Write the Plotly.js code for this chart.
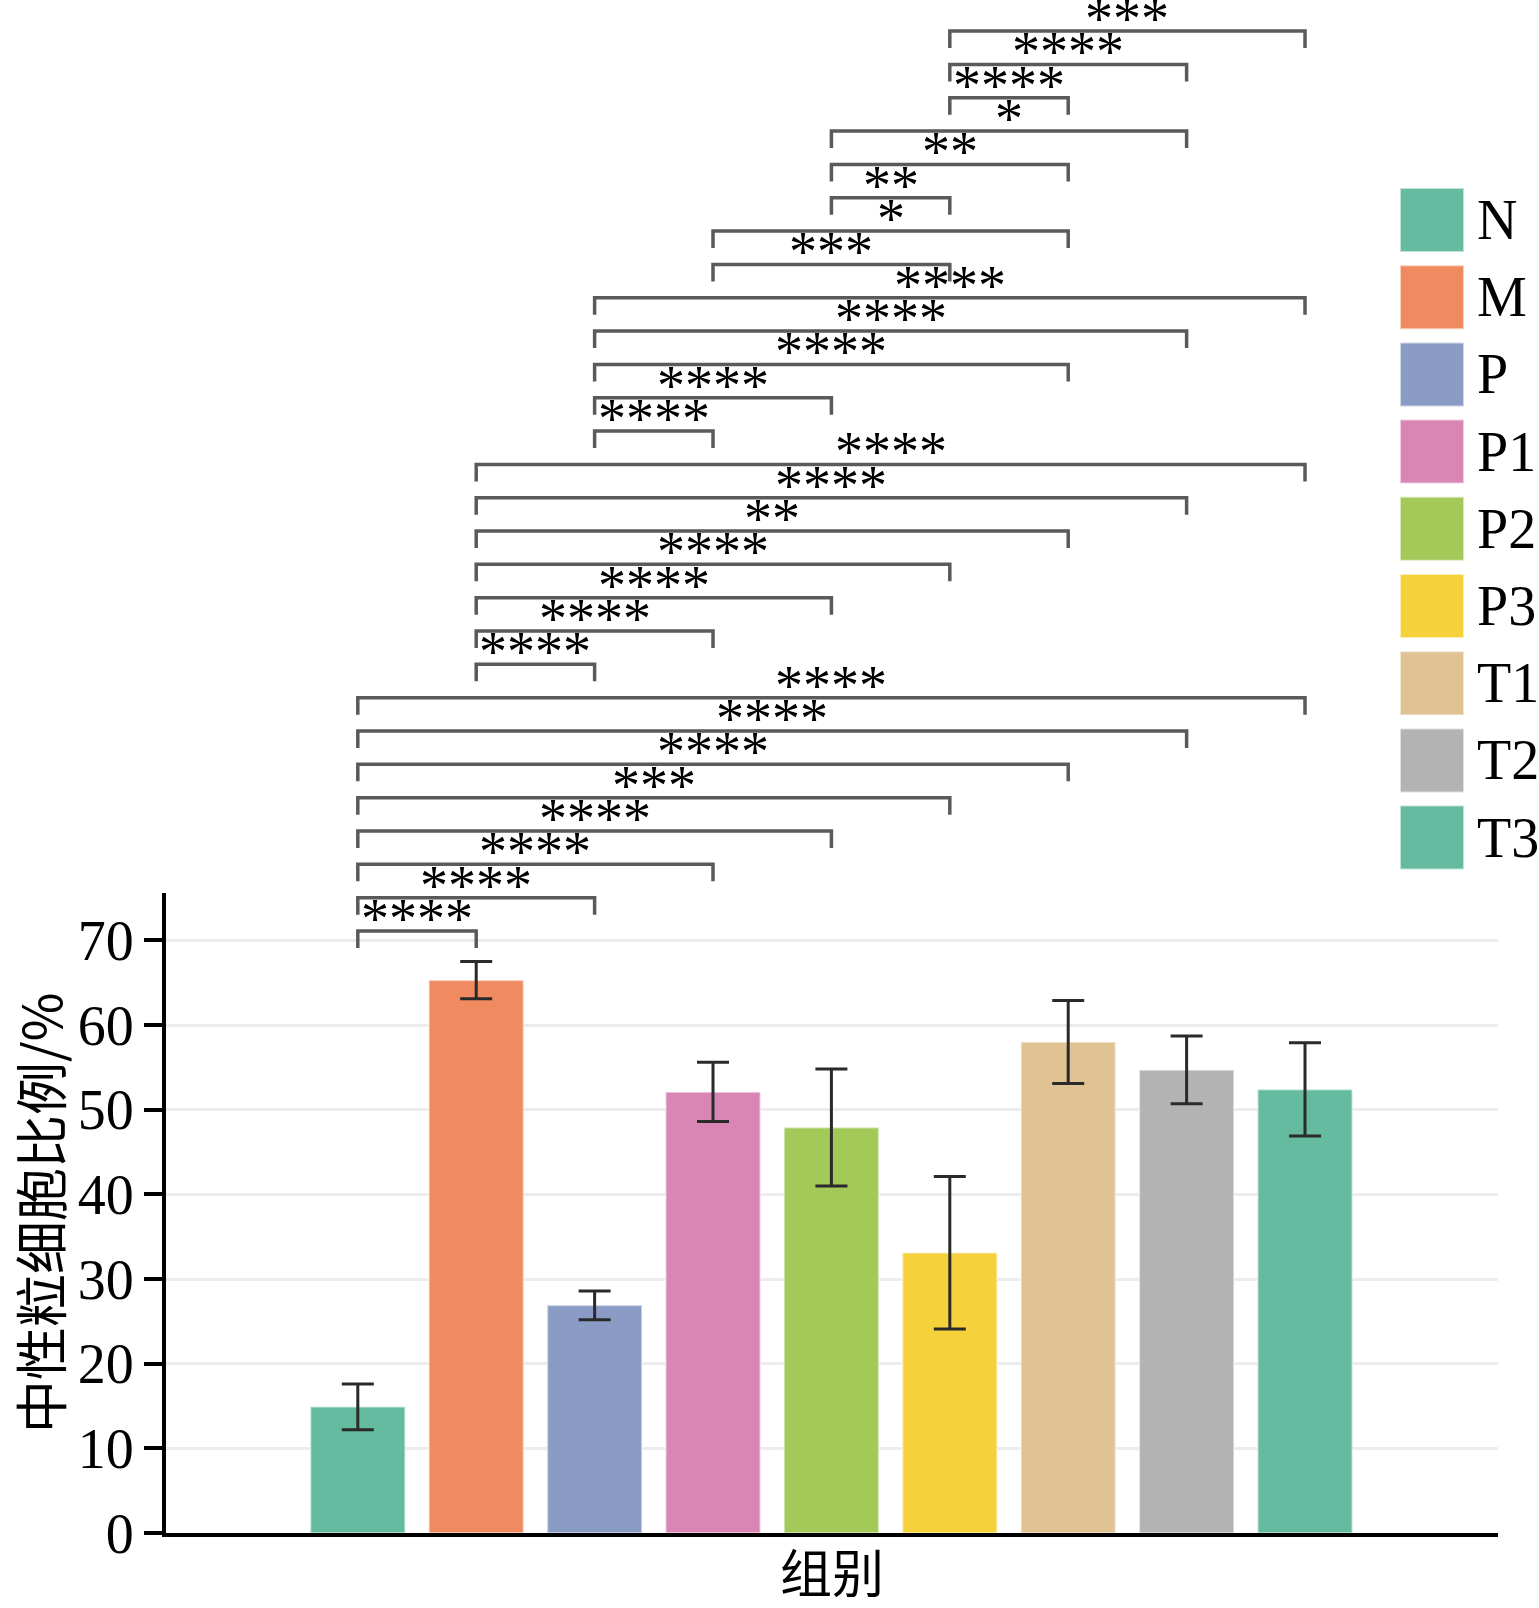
<!DOCTYPE html>
<html>
<head>
<meta charset="utf-8">
<script src="https://cdn.plot.ly/plotly-3.0.1.min.js"></script>
<style>
  html, body { margin: 0; padding: 0; background: #fff; }
  #chart { width: 1539px; height: 1608px; }
</style>
</head>
<body>
<div id="chart"></div>
<script>
// ── data ──────────────────────────────────────────────────────────────────
const groups = ['N', 'M', 'P', 'P1', 'P2', 'P3', 'T1', 'T2', 'T3'];
const means  = [14.9, 65.3, 26.9, 52.1, 47.9, 33.1, 58.0, 54.7, 52.4];
const sds    = [2.7, 2.2, 1.7, 3.5, 6.9, 9.0, 4.9, 4.0, 5.5];
const colors = ['#64bb9f', '#f08a61', '#8a9cc5', '#d986b4', '#a3c958',
                '#f5d23b', '#e0c293', '#b3b3b3', '#64bb9f'];

// comparisons, bottom to top
const pairFrom  = ['N','N','N','N','N','N','N','N',
                   'M','M','M','M','M','M','M',
                   'P','P','P','P','P',
                   'P1','P1',
                   'P2','P2','P2',
                   'P3','P3','P3'];
const pairTo    = ['M','P','P1','P2','P3','T1','T2','T3',
                   'P','P1','P2','P3','T1','T2','T3',
                   'P1','P2','T1','T2','T3',
                   'P3','T1',
                   'P3','T1','T2',
                   'T1','T2','T3'];
const pairStars = ['****','****','****','****','***','****','****','****',
                   '****','****','****','****','**','****','****',
                   '****','****','****','****','****',
                   '***','*',
                   '**','**','*',
                   '****','****','***'];

const yTicks = [0, 10, 20, 30, 40, 50, 60, 70];
const xTitle = '组别';
const yTitle = '中性粒细胞比例/%';

// ── geometry helpers (pixel -> paper) ────────────────────────────────────
const W = 1539, H = 1608;
const M = {l: 166, r: 41, t: 0, b: 75};
const plotW = W - M.l - M.r, plotH = H - M.t - M.b;
const pxX = px => (px - M.l) / plotW;
const pxY = py => (H - M.b - py) / plotH;

const SERIF = 'Liberation Serif, DejaVu Serif, serif';
const CJK = 'Noto Sans CJK SC, sans-serif';

const xIdx = groups.map((_, i) => i);

const traces = [{
  type: 'bar', x: xIdx, y: means, width: 0.8,
  marker: {color: colors, line: {color: 'rgba(255,255,255,0.45)', width: 2}},
  error_y: {type: 'data', array: sds, visible: true, color: '#2a2a2a', thickness: 3, width: 16},
  showlegend: false, hoverinfo: 'x+y'
}];

const shapes = [], annotations = [];

// significance brackets
const lineBase = 931, lineStep = 33.33, stub = 17;
pairFrom.forEach((f, i) => {
  const a = groups.indexOf(f), b = groups.indexOf(pairTo[i]);
  const yl = lineBase - lineStep * i;
  shapes.push({
    type: 'path', xref: 'x', yref: 'paper',
    path: `M${a},${pxY(yl + stub)} L${a},${pxY(yl)} L${b},${pxY(yl)} L${b},${pxY(yl + stub)}`,
    line: {color: '#5a5a5a', width: 3.5}
  });
  annotations.push({
    xref: 'x', yref: 'paper', x: (a + b) / 2, y: pxY(yl - 12),
    xanchor: 'center', yanchor: 'middle', showarrow: false,
    text: pairStars[i], font: {family: SERIF, size: 56, color: '#000'}
  });
});

// legend drawn as big swatches
const legTop = 220, legStep = 77.2, sw = 64;
groups.forEach((g, i) => {
  const cy = legTop + legStep * i;
  shapes.push({
    type: 'rect', xref: 'paper', yref: 'paper',
    x0: pxX(1400), x1: pxX(1464), y0: pxY(cy + sw / 2), y1: pxY(cy - sw / 2),
    fillcolor: colors[i], line: {color: 'rgba(255,255,255,0.6)', width: 2}
  });
  annotations.push({
    xref: 'paper', yref: 'paper', x: pxX(1475), y: pxY(cy),
    xanchor: 'left', yanchor: 'middle', showarrow: false,
    text: g, font: {family: SERIF, size: 56, color: '#000'}
  });
});

// axis titles
annotations.push({
  xref: 'paper', yref: 'paper', x: 0.5, y: pxY(1570),
  xanchor: 'center', yanchor: 'middle', showarrow: false,
  text: xTitle, font: {family: CJK, size: 52, color: '#000'}
});
annotations.push({
  xref: 'paper', yref: 'paper', x: pxX(39), y: pxY(1213),
  xanchor: 'center', yanchor: 'middle', showarrow: false, textangle: -90,
  text: yTitle, font: {family: CJK, size: 53, color: '#000'}
});

const layout = {
  width: W, height: H, margin: M,
  paper_bgcolor: '#fff', plot_bgcolor: '#fff',
  showlegend: false,
  xaxis: {
    range: [-1.62, 9.63], showgrid: false, zeroline: false,
    showticklabels: false, ticks: '',
    showline: true, linecolor: '#000', linewidth: 4
  },
  yaxis: {
    domain: [0, pxY(893)], range: [0, 75.6],
    tickvals: yTicks, ticks: 'outside', ticklen: 18, tickwidth: 4, tickcolor: '#000',
    ticklabelstandoff: -1,
    tickfont: {family: SERIF, size: 56, color: '#000'},
    showgrid: true, gridcolor: '#ececec', gridwidth: 3, zeroline: false,
    showline: true, linecolor: '#000', linewidth: 4
  },
  shapes: shapes,
  annotations: annotations
};

Plotly.newPlot('chart', traces, layout, {displayModeBar: false, staticPlot: true});
</script>
</body>
</html>
